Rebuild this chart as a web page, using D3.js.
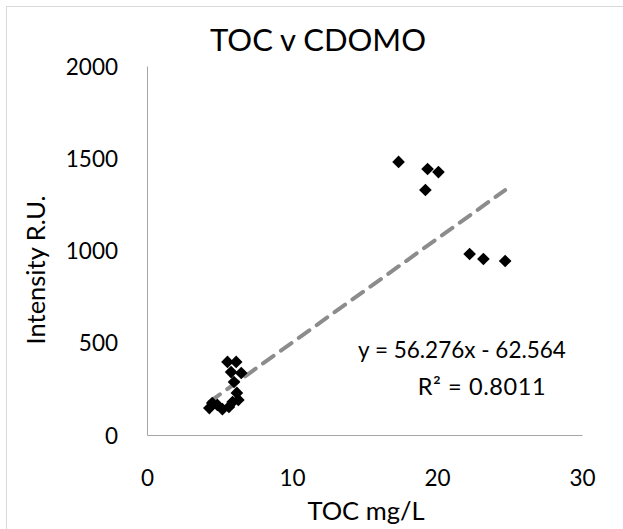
<!DOCTYPE html>
<html>
<head>
<meta charset="utf-8">
<script src="https://cdn.jsdelivr.net/npm/d3@7"></script>
<style>
  body { margin: 0; background: #fff; }
  text { font-family: Lato, "Open Sans", sans-serif; fill: #000; }
</style>
</head>
<body>
<div id="chart-area"></div>
<script>

// TOC (mg/L) and CDOM intensity (R.U.)
var tocValues = [17.35, 19.35, 20.1, 19.2, 22.25, 23.2, 24.7,
                 5.55, 6.15, 5.8, 6.5, 6.0, 6.2, 6.3,
                 4.3, 4.85, 5.2, 5.65, 4.5, 5.9];
var cdomValues = [1480, 1442, 1425, 1328, 981, 954, 943,
                  396, 396, 341, 336, 287, 228, 190,
                  146, 163, 140, 152, 173, 179];

var xTicks = [0, 10, 20, 30];
var yTicks = [0, 500, 1000, 1500, 2000];

var slope = 56.276;
var intercept = -62.564;
var eqLabel = "y = 56.276x - 62.564";
var r2Label = "R² = 0.8011";

var total_width = 623;
var total_height = 529;

var svg = d3.select('#chart-area').append('svg')
            .attr("width", total_width)
            .attr("height", total_height);

// light outer border
svg.append("rect")
   .attr("x", 6.5).attr("y", 6.5)
   .attr("width", 700).attr("height", 600)
   .attr("fill", "none")
   .attr("stroke", "#d9d9d9");

var margin = {top: 66, right: 41, bottom: 94, left: 147};
var width = total_width - margin.left - margin.right;
var height = total_height - margin.top - margin.bottom;

var chart = svg.append('g')
               .attr("transform", "translate(" + margin.left + "," + margin.top + ")");

var x = d3.scaleLinear().domain([0, 30]).range([0, width]);
var y = d3.scaleLinear().domain([0, 2000]).range([height, 0]);

var xAxis = d3.axisBottom(x).tickValues(xTicks).tickFormat(d3.format("d"))
              .tickSize(0).tickPadding(35);
var yAxis = d3.axisLeft(y).tickValues(yTicks).tickFormat(d3.format("d"))
              .tickSize(0).tickPadding(29);

var gx = chart.append('g')
              .attr("transform", "translate(0," + height + ")")
              .call(xAxis);
var gy = chart.append('g').call(yAxis);

[gx, gy].forEach(function(g){
  g.select(".domain").attr("stroke", "#a6a6a6").attr("stroke-width", 1);
  g.selectAll("text").attr("font-size", "22.5px").attr("fill", "#000")
   .attr("font-family", "Lato, sans-serif");
});
gy.selectAll("text").attr("dy", "0.36em");

// trendline over the x range of the data
var xr = d3.extent(tocValues);
var trend = xr.map(function(v){ return {x: v, y: slope * v + intercept}; });
chart.append("path")
     .datum(trend)
     .attr("d", d3.line().x(function(d){ return x(d.x); }).y(function(d){ return y(d.y); }))
     .attr("stroke", "#8c8c8c")
     .attr("stroke-width", 4)
     .attr("stroke-dasharray", "13,9")
     .attr("stroke-linecap", "round")
     .attr("fill", "none");

var points = tocValues.map(function(v, i){ return {x: v, y: cdomValues[i]}; });
var diamond = d3.symbol().type(d3.symbolSquare).size(80);

chart.selectAll("path.pt").data(points).enter().append("path")
     .attr("class", "pt")
     .attr("d", diamond)
     .attr("transform", function(d){
       return "translate(" + x(d.x) + "," + y(d.y) + ") rotate(45)";
     })
     .attr("fill", "#000");

// title
svg.append("text")
   .attr("x", 318).attr("y", 51)
   .attr("text-anchor", "middle")
   .attr("font-size", "31px")
   .text("TOC v CDOMO");

// axis titles
svg.append("text")
   .attr("x", 366).attr("y", 520)
   .attr("text-anchor", "middle")
   .attr("font-size", "25.5px")
   .text("TOC mg/L");

svg.append("text")
   .attr("transform", "translate(45,270) rotate(-90)")
   .attr("text-anchor", "middle")
   .attr("font-size", "25.5px")
   .text("Intensity R.U.");

// equation
svg.append("text")
   .attr("x", 462).attr("y", 358)
   .attr("text-anchor", "middle")
   .attr("font-size", "22.5px")
   .text(eqLabel);
svg.append("text")
   .attr("x", 482).attr("y", 395)
   .attr("text-anchor", "middle")
   .attr("font-size", "23.5px")
   .attr("letter-spacing", "0.6px")
   .text(r2Label);

</script>
</body>
</html>
